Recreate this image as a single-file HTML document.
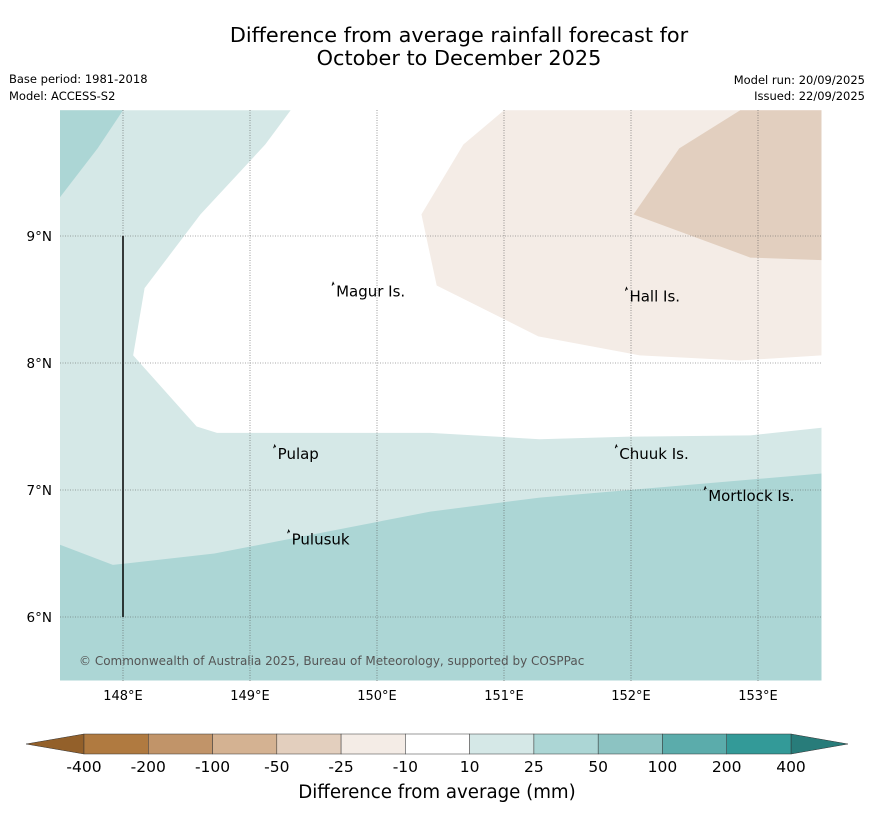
<!DOCTYPE html>
<html><head><meta charset="utf-8"><style>
body{margin:0;background:#fff;font-family:"DejaVu Sans","Liberation Sans",sans-serif}
svg text{font-family:"DejaVu Sans","Liberation Sans",sans-serif}
</style></head><body>
<svg id="chart" width="873" height="816" viewBox="0 0 873 816" xmlns="http://www.w3.org/2000/svg">
<rect width="873" height="816" fill="#fff"/>
<text x="459" y="42" font-size="20.8" text-anchor="middle">Difference from average rainfall forecast for</text>
<text x="459" y="65" font-size="20.8" text-anchor="middle">October to December 2025</text>
<text x="9" y="83" font-size="11.5">Base period: 1981-2018</text>
<text x="9" y="100" font-size="11.5">Model: ACCESS-S2</text>
<text x="865" y="84" font-size="11.5" text-anchor="end">Model run: 20/09/2025</text>
<text x="865" y="100" font-size="11.5" text-anchor="end">Issued: 22/09/2025</text>
<g id="map"></g>
<g id="cbar"></g>
<text x="437" y="798" font-size="18.2" text-anchor="middle">Difference from average (mm)</text>
</svg>
<script>
const lonTicks=[148,149,150,151,152,153];
const latTicks=[6,7,8,9];
// contour polygons (lon, lat) by category
const polyWet10Lon=[147.5,149.32,149.12,148.61,148.17,148.08,148.58,148.74,150.42,151.28,151.99,152.94,153.5,153.5,147.5];
const polyWet10Lat=[9.99,9.99,9.72,9.17,8.59,8.06,7.5,7.45,7.45,7.4,7.42,7.43,7.49,5.5,5.5];
const polyWet25Lon=[147.5,147.92,148.72,150.42,151.28,151.99,153.5,153.5,147.5];
const polyWet25Lat=[6.57,6.41,6.5,6.83,6.94,7.0,7.13,5.5,5.5];
const polyCornerLon=[147.5,148.0,147.8,147.5];
const polyCornerLat=[9.99,9.99,9.69,9.3];
const polyDry10Lon=[151.0,153.5,153.5,152.86,152.07,151.27,150.47,150.35,150.68];
const polyDry10Lat=[9.99,9.99,8.06,8.02,8.06,8.21,8.61,9.17,9.72];
const polyDry25Lon=[152.86,153.5,153.5,152.94,152.02,152.38];
const polyDry25Lat=[9.99,9.99,8.81,8.83,9.17,9.69];
const placeNames=["Magur Is.","Hall Is.","Pulap","Chuuk Is.","Mortlock Is.","Pulusuk"];
const placeLon=[149.67,151.98,149.21,151.9,152.6,149.32];
const placeLat=[8.57,8.53,7.29,7.29,6.96,6.62];
const cbLabels=["-400","-200","-100","-50","-25","-10","10","25","50","100","200","400"];
const cbColors=["#b07a40","#c19469","#d4b292","#e3cfbe","#f4ece6","#ffffff","#d5e8e7","#acd6d5","#8cc3c2","#5bacab","#339a98"];

const NS="http://www.w3.org/2000/svg";
const X=lon=>123+(lon-148)*127, Y=lat=>236-(lat-9)*127;
const map=document.getElementById('map');
function mk(tag,attrs,parent){const e=document.createElementNS(NS,tag);for(const k in attrs)e.setAttribute(k,attrs[k]);parent.appendChild(e);return e;}
const clip=mk('clipPath',{id:'mc'},map);mk('rect',{x:60,y:110,width:762,height:571},clip);
const g=mk('g',{'clip-path':'url(#mc)'},map);
function poly(lons,lats,fill,name){const p=mk('polygon',{points:lons.map((l,i)=>X(l)+','+Y(lats[i])).join(' '),fill:fill,stroke:'none'},g);

}
poly(polyWet10Lon,polyWet10Lat,'#d5e8e7','contour-wet-10-25');
poly(polyWet25Lon,polyWet25Lat,'#acd6d5','contour-wet-25-50');
poly(polyCornerLon,polyCornerLat,'#acd6d5','contour-wet-25-50-corner');
poly(polyDry10Lon,polyDry10Lat,'#f4ece6','contour-dry-10-25');
poly(polyDry25Lon,polyDry25Lat,'#e2cfbf','contour-dry-25-50');
lonTicks.forEach(l=>{const ln=mk('line',{x1:X(l),x2:X(l),y1:110,y2:681,stroke:'#555','stroke-width':0.6,'stroke-dasharray':'1,1.5'},g);


const t=mk('text',{x:X(l),y:700,'font-size':13,'text-anchor':'middle'},map);t.textContent=l+'°E';

});
latTicks.forEach(l=>{const ln=mk('line',{x1:60,x2:822,y1:Y(l),y2:Y(l),stroke:'#555','stroke-width':0.6,'stroke-dasharray':'1,1.5'},g);


const t=mk('text',{x:52,y:Y(l)+5,'font-size':13.5,'text-anchor':'end'},map);t.textContent=l+'°N';

});
const vl=mk('line',{x1:X(148),x2:X(148),y1:Y(9),y2:Y(6),stroke:'#000','stroke-width':1.5},g);


placeNames.forEach((n,i)=>{const x=X(placeLon[i]),y=Y(placeLat[i]);
const m=mk('path',{d:`M${x-3},${y-5} l1,-3 l1,2`,stroke:'#000',fill:'none','stroke-width':1},g);


const t=mk('text',{x:x+1,y:y+6,'font-size':15},g);t.textContent=n;

});
const cp=mk('text',{x:79,y:665,'font-size':12,fill:'#555'},g);cp.textContent='© Commonwealth of Australia 2025, Bureau of Meteorology, supported by COSPPac';


// colorbar
const cb=document.getElementById('cbar');const x0=84,x1=791,w=(x1-x0)/cbColors.length,yt=734,yb=754;
const lt=mk('polygon',{points:`26,744 ${x0},${yt} ${x0},${yb}`,fill:'#93602a',stroke:'#333','stroke-width':0.5},cb);


const rt=mk('polygon',{points:`848,744 ${x1},${yt} ${x1},${yb}`,fill:'#287c7a',stroke:'#333','stroke-width':0.5},cb);


cbColors.forEach((c,i)=>{const r=mk('rect',{x:x0+i*w,y:yt,width:w,height:yb-yt,fill:c,stroke:'#333','stroke-width':0.5},cb);

});
cbLabels.forEach((l,i)=>{const t=mk('text',{x:x0+i*w,y:772,'font-size':15.5,'text-anchor':'middle'},cb);t.textContent=l;

});
</script>
</body></html>
